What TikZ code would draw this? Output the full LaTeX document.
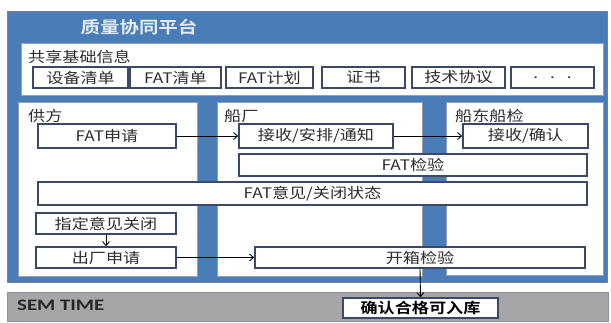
\documentclass[tikz,border=0pt]{standalone}
\usepackage{fontspec}
\usetikzlibrary{arrows.meta}
\newfontfamily\cjk[FakeStretch=1.18]{Noto Sans CJK SC}
\newfontfamily\cjkb[FakeStretch=1.18]{Noto Sans CJK SC Bold}
\newfontfamily\semfont[FakeStretch=1.3]{Carlito}
\definecolor{panelblue}{RGB}{74,124,184}
\definecolor{titlecol}{RGB}{228,236,246}
\definecolor{boxline}{RGB}{58,74,102}
\definecolor{panelline}{RGB}{150,160,175}
\definecolor{txt}{RGB}{45,45,45}
\definecolor{barfill}{RGB}{166,166,168}
\tikzset{
  panel/.style={draw=panelline, line width=0.8pt, fill=white, inner sep=0pt},
  smallbox/.style={draw=boxline, line width=1.6pt, fill=white, inner sep=0pt,
    font=\cjk\fontsize{14.5}{16}\selectfont, text=txt},
  lbl/.style={anchor=west, inner sep=0pt, font=\cjk\fontsize{14.5}{16}\selectfont, text=txt},
  arr/.style={-{Straight Barb[length=4pt,width=7pt]}, line width=0.9pt, black},
}
\begin{document}
\begin{tikzpicture}[x=1pt,y=-1pt]
\useasboundingbox (0,0) rectangle (611,323);
\fill[white] (0,0) rectangle (611,323);
% outer blue platform
\node[fill=panelblue, draw=boxline!70, line width=0.6pt, minimum width=600pt, minimum height=271pt, inner sep=0pt] (plat) at (307,146.5) {};
\node[inner sep=0pt, text=titlecol, font=\cjkb\fontsize{16.5}{18}\selectfont] (title) at (139,27) {质量协同平台};
% shared info
\node[panel, minimum width=582pt, minimum height=52pt] (shared) at (312,69) {};
\node[lbl] (sharedlbl) at (28,57) {共享基础信息};
\node[smallbox, minimum width=95pt, minimum height=21pt] (b1) at (80.5,77.5) {设备清单};
\node[smallbox, minimum width=91pt, minimum height=21pt] (b2) at (175.5,77.5) {FAT清单};
\node[smallbox, minimum width=87pt, minimum height=21pt] (b3) at (269.5,77.5) {FAT计划};
\node[smallbox, minimum width=83pt, minimum height=21pt] (b4) at (363.5,77.5) {证书};
\node[smallbox, minimum width=93pt, minimum height=21pt] (b5) at (458.5,77.5) {技术协议};
\node[smallbox, minimum width=83pt, minimum height=21pt] (b6) at (552.5,77.5) {.\hspace{12pt}.\hspace{12pt}.};
% columns
\node[panel, minimum width=179pt, minimum height=174pt] (sup) at (107.5,189) {};
\node[panel, minimum width=205pt, minimum height=174pt] (yard) at (319.5,189) {};
\node[panel, minimum width=157pt, minimum height=173pt] (own) at (524.5,188.5) {};
\node[lbl] (suplbl) at (28,116) {供方};
\node[lbl] (yardlbl) at (224,116) {船厂};
\node[lbl] (ownlbl) at (455,116) {船东船检};
% process boxes
\node[smallbox, minimum width=138pt, minimum height=24pt] (fatreq) at (107,136) {FAT申请};
\node[smallbox, minimum width=154pt, minimum height=24pt] (recv) at (316,136) {接收/安排/通知};
\node[smallbox, minimum width=125pt, minimum height=24pt] (conf) at (525.5,136) {接收/确认};
\node[smallbox, minimum width=348pt, minimum height=22pt] (fatchk) at (413,165) {FAT检验};
\node[smallbox, minimum width=549pt, minimum height=23pt] (fatop) at (312.5,193.5) {FAT意见/关闭状态};
\node[smallbox, minimum width=140pt, minimum height=21pt] (close) at (106,223.5) {指定意见关闭};
\node[smallbox, minimum width=140pt, minimum height=21pt] (ship) at (106,257.5) {出厂申请};
\node[smallbox, minimum width=330pt, minimum height=21pt] (open) at (420,257.5) {开箱检验};
% SEM TIME bar
\node[fill=barfill, draw=boxline!60, line width=0.8pt, minimum width=601pt, minimum height=29pt, inner sep=0pt] (bar) at (307.5,306.5) {};
\node[anchor=west, inner sep=0pt, font=\semfont\bfseries\fontsize{16}{18}\selectfont, text=black!85] (sem) at (17,305.5) {SEM TIME};
\node[smallbox, minimum width=155pt, minimum height=20pt, text=black, font=\cjkb\fontsize{14.5}{16}\selectfont] (stock) at (420.5,308) {确认合格可入库};
% arrows
\draw[arr] (fatreq.east) -- (recv.west);
\draw[arr] (recv.east) -- (conf.west);
\draw[arr] (close.south) -- (ship.north);
\draw[arr] (ship.east) -- (open.west);
\draw[arr] (open.south) -- (stock.north);
\end{tikzpicture}
\end{document}
